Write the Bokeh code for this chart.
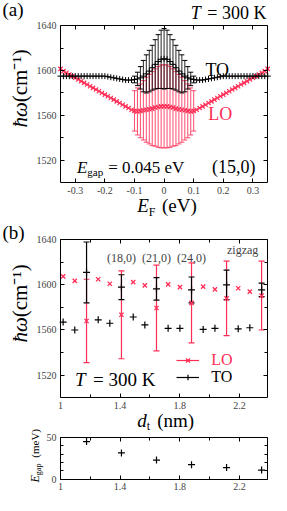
import math
from bokeh.plotting import figure
from bokeh.models import (Range1d, LinearAxis, FixedTicker, CustomJSTickFormatter,
                          Label, Legend, LegendItem)
from bokeh.embed import file_html
from bokeh.resources import INLINE

FONT = "Liberation Serif"
RED = "#ff2d55"
W, H = 271, 495
SX = W / 287
SY = H / 511

# ---------------- panel (a): (15,0) tube, phonon energy vs Fermi level ----------------
EF = [-0.35, -0.34, -0.33, -0.32, -0.31, -0.30, -0.29, -0.28, -0.27, -0.26, -0.25, -0.24,
      -0.23, -0.22, -0.21, -0.20, -0.19, -0.18, -0.17, -0.16, -0.15, -0.14, -0.13, -0.12,
      -0.11, -0.10, -0.09, -0.08, -0.07, -0.06, -0.05, -0.04, -0.03, -0.02, -0.01, 0.00,
      0.01, 0.02, 0.03, 0.04, 0.05, 0.06, 0.07, 0.08, 0.09, 0.10, 0.11, 0.12,
      0.13, 0.14, 0.15, 0.16, 0.17, 0.18, 0.19, 0.20, 0.21, 0.22, 0.23, 0.24,
      0.25, 0.26, 0.27, 0.28, 0.29, 0.30, 0.31, 0.32, 0.33, 0.34, 0.35]
TO_A = [1595, 1595, 1595, 1595, 1595, 1595, 1595, 1595, 1595, 1595, 1595, 1595,
        1595, 1595, 1595, 1595, 1594.5, 1594, 1593.5, 1593, 1592.5, 1592, 1591.5, 1591.5,
        1591.5, 1592, 1592.5, 1593.5, 1595, 1597, 1599.5, 1602.5, 1605.5, 1608, 1610, 1610.5,
        1610, 1608, 1605.5, 1602.5, 1599.5, 1597, 1595, 1593.5, 1592.5, 1592, 1591.5, 1591.5,
        1591.5, 1592, 1592.5, 1593, 1593.5, 1594, 1594.5, 1595, 1595, 1595, 1595, 1595,
        1595, 1595, 1595, 1595, 1595, 1595, 1595, 1595, 1595, 1595, 1595]
LO_A = [1601.5, 1599.5, 1598, 1596.5, 1595, 1593.5, 1592, 1590.5, 1589, 1587.5, 1586, 1584.5,
        1583, 1581.5, 1580, 1578.5, 1577, 1575.5, 1574, 1572.5, 1571, 1569.5, 1568, 1566.5,
        1565, 1564, 1563.5, 1564, 1564.5, 1565, 1565.5, 1566, 1567, 1567.5, 1568, 1568,
        1568, 1567.5, 1567, 1566, 1565.5, 1565, 1564.5, 1564, 1563.5, 1564, 1565, 1566.5,
        1568, 1569.5, 1571, 1572.5, 1574, 1575.5, 1577, 1578.5, 1580, 1581.5, 1583, 1584.5,
        1586, 1587.5, 1589, 1590.5, 1592, 1593.5, 1595, 1596.5, 1598, 1599.5, 1601.5]
EF_BAR = [-0.10, -0.09, -0.08, -0.07, -0.06, -0.05, -0.04, -0.03, -0.02, -0.01, 0.00,
          0.01, 0.02, 0.03, 0.04, 0.05, 0.06, 0.07, 0.08, 0.09, 0.10]
TO_A_ERR = [3, 6, 10, 14, 17, 18.5, 20, 22, 24, 26, 27, 26, 24, 22, 20, 18.5, 17, 14, 10, 6, 3]
LO_A_ERR = [18, 21, 24, 26.5, 29, 31, 33, 34.5, 36, 37, 37, 37, 36, 34.5, 33, 31, 29, 26.5, 24, 21, 18]

# ---------------- panel (b): zigzag tubes vs diameter ----------------
D_T = [1.018, 1.096, 1.175, 1.253, 1.331, 1.409, 1.488, 1.566, 1.644, 1.722, 1.801, 1.879,
       1.957, 2.036, 2.114, 2.192, 2.270, 2.349]
TO_B = [1567, 1560, 1611, 1569, 1566, 1598, 1571.5, 1564.5, 1596.5, 1561.5, 1561.5, 1595.5,
        1560.5, 1561.5, 1600, 1561, 1562, 1595.5]
LO_B = [1607.5, 1603.5, 1568, 1605, 1601, 1573.5, 1602.5, 1599.5, 1579.5, 1600.5, 1598, 1584,
        1598.5, 1596, 1588, 1597, 1594, 1590.5]
D_MET = [1.175, 1.409, 1.644, 1.879, 2.114, 2.349]
TO_B_ERR = [27, 11, 10, 11.5, 13, 6]
LO_B_ERR = [37, 39, 38, 35.5, 33, 30.5]
TUBE_LABELS = ["(18,0)", "(21,0)", "(24,0)"]
TUBE_LABEL_D = [1.409, 1.644, 1.879]

# ---------------- panel (c): band gap ----------------
EGAP = [45, 31.5, 23, 17.5, 14, 11]

# ---------------- axis extents and ticks ----------------
XA_LIM = (-0.35, 0.35)
YW_LIM = (1500, 1640)
XB_LIM = (1.0, 2.39)
YC_LIM = (0, 50)
XA_TICKS = [-0.3, -0.2, -0.1, 0.0, 0.1, 0.2, 0.3]
YW_TICKS = [1520, 1560, 1600, 1640]
YW_MINOR = [1540, 1580, 1620]
XB_TICKS = [1.0, 1.4, 1.8, 2.2]
XB_MINOR = [1.2, 1.6, 2.0]
YC_TICKS = [0, 50]
YC_MINOR = [10, 20, 30, 40]

# panel boxes in reference pixels: left, top, right, bottom
BOX_A = (63.5, 26, 283, 188)
BOX_B = (63.5, 247, 283, 410)
BOX_C = (63.5, 451, 283, 494.3)


def xrange_for(lim, box):
    p0, p1 = box[0] * SX, box[2] * SX
    k = (lim[1] - lim[0]) / (p1 - p0)
    return Range1d(lim[0] - p0 * k, lim[1] + (W - p1) * k)


def yrange_for(lim, box):
    t, b = box[1] * SY, box[3] * SY
    k = (lim[1] - lim[0]) / (b - t)
    return Range1d(lim[0] - (H - b) * k, lim[1] + t * k)


p = figure(width=W, height=H, x_range=xrange_for(XA_LIM, BOX_A), y_range=yrange_for(YW_LIM, BOX_A),
           x_axis_type=None, y_axis_type=None, output_backend="svg", toolbar_location=None,
           min_border=0, min_border_left=0, min_border_right=0, min_border_top=0, min_border_bottom=0)
p.title.visible = False
p.grid.visible = False
p.outline_line_color = None
p.extra_x_ranges = {"bx": xrange_for(XB_LIM, BOX_B), "cx": xrange_for(XB_LIM, BOX_C)}
p.extra_y_ranges = {"by": yrange_for(YW_LIM, BOX_B), "cy": yrange_for(YC_LIM, BOX_C)}

XFMT_A = "return Math.abs(tick) < 1e-9 ? '0' : tick.toFixed(1);"
XFMT_B = "return Math.abs(tick - Math.round(tick)) < 1e-9 ? tick.toFixed(0) : tick.toFixed(1);"
YFMT = "return tick.toFixed(0);"
NOFMT = "return '';"


def frame_axes(xr, yr, xlim, ylim, xt, xm, yt, ym, xfmt, yfmt):
    specs = (("below", xlim, ylim[0], xt, xm, xfmt, True),
             ("above", xlim, ylim[1], xt, xm, NOFMT, False),
             ("left", ylim, xlim[0], yt, ym, yfmt, True),
             ("right", ylim, xlim[1], yt, ym, NOFMT, False))
    for side, bounds, loc, ticks, minor, code, labels in specs:
        ax = LinearAxis(x_range_name=xr, y_range_name=yr, fixed_location=loc, bounds=bounds,
                        ticker=FixedTicker(ticks=ticks, minor_ticks=minor),
                        formatter=CustomJSTickFormatter(code=code),
                        major_tick_in=4, major_tick_out=0, minor_tick_in=3, minor_tick_out=0,
                        axis_line_color="black", major_tick_line_color="black",
                        minor_tick_line_color="black",
                        major_label_text_font=FONT,
                        major_label_text_font_size="10px" if labels else "0px",
                        major_label_standoff=4 if labels else 0)
        p.add_layout(ax, side)


def put(box, xr, yr, xlim, ylim, rx, ry, text, size, color="black", style="normal",
        align="left", angle=0.0):
    p.add_layout(Label(x=xlim[0], y=ylim[1], x_range_name=xr, y_range_name=yr,
                       x_offset=(rx - box[0]) * SX, y_offset=-(ry - box[1]) * SY,
                       text=text, text_font=FONT, text_font_size=f"{size}px",
                       text_color=color, text_font_style=style, text_align=align,
                       text_baseline="middle", angle=angle))


# ======== panel (a) ========
frame_axes("default", "default", XA_LIM, YW_LIM, XA_TICKS, [], YW_TICKS, YW_MINOR, XFMT_A, YFMT)

to_c = [TO_A[EF.index(e)] for e in EF_BAR]
lo_c = [LO_A[EF.index(e)] for e in EF_BAR]
lo_lo = [c - e for c, e in zip(lo_c, LO_A_ERR)]
lo_hi = [c + e for c, e in zip(lo_c, LO_A_ERR)]
to_lo = [c - e for c, e in zip(to_c, TO_A_ERR)]
to_hi = [c + e for c, e in zip(to_c, TO_A_ERR)]

p.segment(x0=EF_BAR, y0=lo_lo, x1=EF_BAR, y1=lo_hi, line_color=RED, line_width=1, line_alpha=0.85)
p.scatter(EF_BAR, lo_lo, marker="dash", size=5, line_color=RED, line_alpha=0.85)
p.scatter(EF_BAR, lo_hi, marker="dash", size=5, line_color=RED, line_alpha=0.85)
p.scatter(EF, LO_A, marker="x", size=6, line_color=RED, line_width=1.2)
p.segment(x0=EF_BAR, y0=to_lo, x1=EF_BAR, y1=to_hi, line_color="black", line_width=1, line_alpha=0.85)
p.scatter(EF_BAR, to_lo, marker="dash", size=5, line_color="black")
p.scatter(EF_BAR, to_hi, marker="dash", size=5, line_color="black")
p.scatter(EF, TO_A, marker="cross", size=6, line_color="black", line_width=1)

A = (BOX_A, "default", "default", XA_LIM, YW_LIM)
put(*A, 2, 9, "(a)", 19)
put(*A, 212, 13, "T", 18, style="italic", align="right")
put(*A, 219, 13, "= 300 K", 18)
put(*A, 217, 72, "TO", 18)
put(*A, 220, 117, "LO", 18, color=RED)
put(*A, 92, 172, "E", 17, style="italic", align="right")
put(*A, 92, 177, "gap", 11)
put(*A, 114, 172, "= 0.045 eV", 17)
put(*A, 224, 172, "(15,0)", 18)
put(*A, 157, 212, "E", 19, style="italic", align="right")
put(*A, 157, 218, "F", 12)
put(*A, 171, 212, "(eV)", 19)
put(*A, 21, 105, "ħω", 21, style="italic", align="right", angle=math.pi / 2)
put(*A, 21, 105, "(cm⁻¹)", 21, align="left", angle=math.pi / 2)

# ======== panel (b) ========
frame_axes("bx", "by", XB_LIM, YW_LIM, XB_TICKS, XB_MINOR, YW_TICKS, YW_MINOR, XFMT_B, YFMT)
RB = dict(x_range_name="bx", y_range_name="by")

tob_c = [TO_B[D_T.index(d)] for d in D_MET]
lob_c = [LO_B[D_T.index(d)] for d in D_MET]
lob_lo = [c - e for c, e in zip(lob_c, LO_B_ERR)]
lob_hi = [c + e for c, e in zip(lob_c, LO_B_ERR)]
tob_lo = [c - e for c, e in zip(tob_c, TO_B_ERR)]
tob_hi = [c + e for c, e in zip(tob_c, TO_B_ERR)]

r_lo_seg = p.segment(x0=D_MET, y0=lob_lo, x1=D_MET, y1=lob_hi, line_color=RED, line_width=1.2, **RB)
p.scatter(D_MET, lob_lo, marker="dash", size=6, line_color=RED, line_width=1.2, **RB)
p.scatter(D_MET, lob_hi, marker="dash", size=6, line_color=RED, line_width=1.2, **RB)
r_to_seg = p.segment(x0=D_MET, y0=tob_lo, x1=D_MET, y1=tob_hi, line_color="black", line_width=1.2, **RB)
p.scatter(D_MET, tob_lo, marker="dash", size=6, line_color="black", line_width=1.2, **RB)
p.scatter(D_MET, tob_hi, marker="dash", size=6, line_color="black", line_width=1.2, **RB)
r_lo_mk = p.scatter(D_T, LO_B, marker="x", size=6, line_color=RED, line_width=1.3, **RB)
r_to_mk = p.scatter(D_T, TO_B, marker="cross", size=7, line_color="black", line_width=1.2, **RB)

for t, d in zip(TUBE_LABELS, TUBE_LABEL_D):
    p.add_layout(Label(x=d, y=1624, text=t, text_font=FONT, text_font_size="12px",
                       text_align="center", text_baseline="middle", **RB))
p.add_layout(Label(x=2.222, y=1631, text="zigzag", text_font=FONT, text_font_size="12px",
                   text_align="center", text_baseline="middle", **RB))

for lab, col, rend, ry in (("LO", RED, [r_lo_seg, r_lo_mk], 373.3), ("TO", "black", [r_to_seg, r_to_mk], 391)):
    lg = Legend(items=[LegendItem(label=lab, renderers=rend)],
                location=(186.7 * SX, H - ry * SY - 7),
                glyph_width=23, glyph_height=14, label_height=14, label_standoff=12,
                padding=0, margin=0, spacing=0, border_line_alpha=0, background_fill_alpha=0,
                label_text_font=FONT, label_text_font_size="16px", label_text_color=col)
    p.add_layout(lg)

B = (BOX_B, "bx", "by", XB_LIM, YW_LIM)
put(*B, 2, 239, "(b)", 19)
put(*B, 90, 391, "T", 19, style="italic", align="right")
put(*B, 98, 391, "= 300 K", 19)
put(*B, 21, 327, "ħω", 21, style="italic", align="right", angle=math.pi / 2)
put(*B, 21, 327, "(cm⁻¹)", 21, align="left", angle=math.pi / 2)
put(*B, 155, 434, "d", 19, style="italic", align="right")
put(*B, 155, 439, "t", 12)
put(*B, 166, 434, "(nm)", 19)

# ======== panel (c) ========
frame_axes("cx", "cy", XB_LIM, YC_LIM, XB_TICKS, XB_MINOR, YC_TICKS, YC_MINOR, XFMT_B, YFMT)
p.scatter(D_MET, EGAP, marker="cross", size=7, line_color="black", line_width=1.2,
          x_range_name="cx", y_range_name="cy")

C = (BOX_C, "cx", "cy", XB_LIM, YC_LIM)
put(*C, 37, 490, "E", 12, style="italic", align="right", angle=math.pi / 2)
put(*C, 40, 490, "gap", 8, align="left", angle=math.pi / 2)
put(*C, 37, 472, "(meV)", 11, align="left", angle=math.pi / 2)

open("out.html", "w").write(file_html(p, INLINE))
